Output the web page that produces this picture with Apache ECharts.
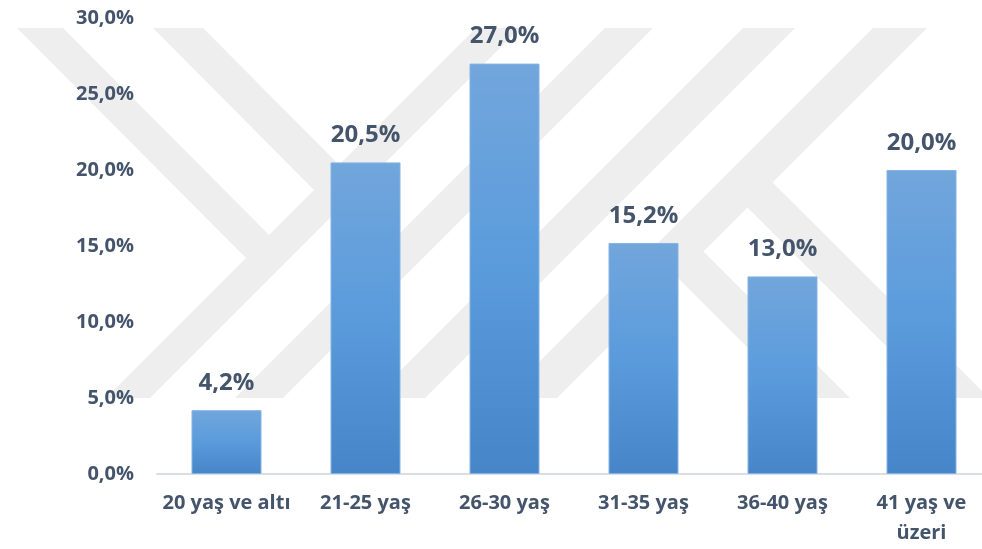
<!DOCTYPE html>
<html>
<head>
<meta charset="utf-8">
<title>Yaş Dağılımı</title>
<script src="https://cdn.jsdelivr.net/npm/echarts@6/dist/echarts.min.js"></script>
<style>
  html, body { margin: 0; padding: 0; background: #ffffff; }
  #chart { width: 982px; height: 549px; }
</style>
</head>
<body>
<div id="chart"></div>
<script>
// Age groups and their shares (%)
const categories = ['20 yaş ve altı', '21-25 yaş', '26-30 yaş', '31-35 yaş', '36-40 yaş', '41 yaş ve\nüzeri'];
const shares = [4.2, 20.5, 27.0, 15.2, 13.0, 20.0];
const axisMin = 0;
const axisMax = 30;
const axisStep = 5;

const textColor = '#44546a';
const fontFamily = '"Open Sans", "Noto Sans", sans-serif';
const pct = v => Number(v).toFixed(1).replace('.', ',') + '%';

// Light grey background emblem made of diagonal stripes
const stripeColor = '#eeeeee';
const stripes = [
  [[476, 28], [520, 28], [150, 398], [106, 398]],
  [[605, 28], [653, 28], [283, 398], [235, 398]],
  [[743, 28], [795, 28], [425, 398], [373, 398]],
  [[873, 28], [927, 28], [557, 398], [503, 398]],
  [[17, 28], [63, 28], [277, 243], [254, 266]],
  [[153, 28], [203, 28], [347, 173], [322, 198]],
  [[760, 170], [989, 398], [938, 398], [735, 195]],
  [[691, 239], [850, 398], [798, 398], [665, 265]]
];

const chart = echarts.init(document.getElementById('chart'), null, { renderer: 'canvas' });

chart.setOption({
  backgroundColor: '#ffffff',
  animation: false,
  graphic: {
    elements: stripes.map(p => ({
      type: 'polygon',
      silent: true,
      z: -10,
      shape: { points: p },
      style: { fill: stripeColor }
    }))
  },
  grid: {
    left: 157,
    right: -9,
    top: 18,
    bottom: 75,
    outerBoundsMode: 'none',
    containLabel: false
  },
  xAxis: {
    type: 'category',
    data: categories,
    axisLine: { show: true, lineStyle: { color: '#d9dee6', width: 2 } },
    axisTick: { show: false },
    axisLabel: {
      color: textColor,
      fontFamily: fontFamily,
      fontWeight: 'bold',
      fontSize: 20,
      lineHeight: 30,
      margin: 14,
      interval: 0
    },
    splitLine: { show: false }
  },
  yAxis: {
    type: 'value',
    min: axisMin,
    max: axisMax,
    interval: axisStep,
    axisLine: { show: false },
    axisTick: { show: false },
    splitLine: { show: false },
    axisLabel: {
      color: textColor,
      fontFamily: fontFamily,
      fontWeight: 'bold',
      fontSize: 20,
      margin: 23,
      formatter: pct
    }
  },
  series: [{
    type: 'bar',
    data: shares,
    barWidth: 70,
    z: 2,
    itemStyle: {
      color: new echarts.graphic.LinearGradient(0, 0, 0, 1, [
        { offset: 0, color: '#72a6dc' },
        { offset: 0.5, color: '#5a9bdc' },
        { offset: 1, color: '#4686c8' }
      ]),
      borderColor: '#86b3e3',
      borderWidth: 1
    },
    label: {
      show: true,
      position: 'top',
      distance: 15,
      color: textColor,
      fontFamily: fontFamily,
      fontWeight: 'bold',
      fontSize: 24,
      formatter: p => pct(p.value)
    }
  }]
});
</script>
</body>
</html>
